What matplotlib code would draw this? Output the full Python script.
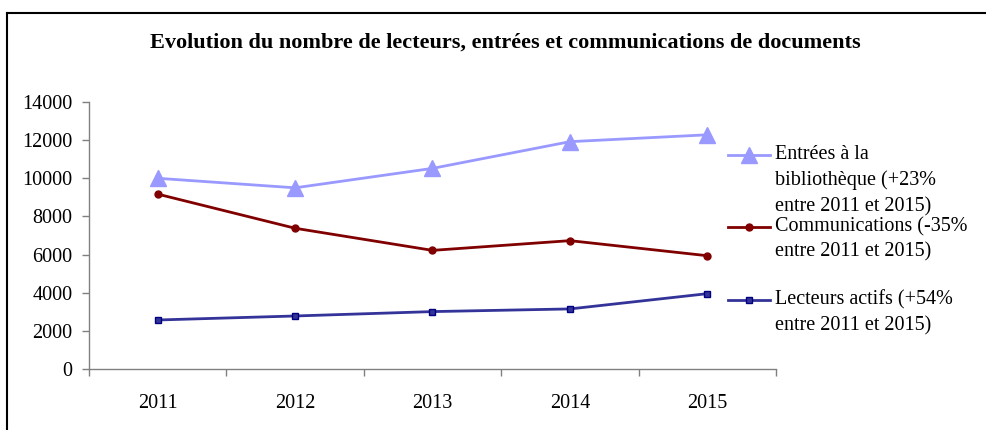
import numpy as np
import matplotlib
matplotlib.use("Agg")
import matplotlib.pyplot as plt
from matplotlib.lines import Line2D

plt.rcParams['font.family'] = ['Liberation Serif', 'DejaVu Serif']

years = ['2011', '2012', '2013', '2014', '2015']
entrees = [10000, 9500, 10520, 11920, 12280]
communications = [9170, 7380, 6220, 6730, 5940]
lecteurs = [2570, 2780, 3010, 3150, 3950]

labels = ['Entrées à la\nbibliothèque (+23%\nentre 2011 et 2015)',
          'Communications (-35%\nentre 2011 et 2015)',
          'Lecteurs actifs (+54%\nentre 2011 et 2015)']
yticks = [0, 2000, 4000, 6000, 8000, 10000, 12000, 14000]

TICK_FONTSIZE = 14.5
LEGEND_FONTSIZE = 14.5
TITLE_FONTSIZE = 16
AXIS_COLOR = '#808080'

W, H = 986, 430
fig = plt.figure(figsize=(W / 100, H / 100), dpi=100)
ax = fig.add_axes([89 / W, 1 - 369 / H, (776 - 89) / W, (369 - 102) / H])

x = np.arange(len(years))
styles = [
    dict(color='#9999FF', marker='^', markersize=11, markerfacecolor='#9999FF', markeredgecolor='#9999FF'),
    dict(color='#800000', marker='o', markersize=5, markerfacecolor='#800000', markeredgecolor='#800000'),
    dict(color='#333399', marker='s', markersize=5, markerfacecolor='#333399', markeredgecolor='#000080'),
]
for vals, st in zip([entrees, communications, lecteurs], styles):
    ax.plot(x, vals, linewidth=2, **st)

ax.set_xlim(-0.5, len(years) - 0.5)
ax.set_ylim(0, 14000)
ax.set_yticks(yticks)
ax.set_yticklabels([str(v) for v in yticks])

# boundary ticks, labels at category centres
ax.set_xticks(np.arange(-0.5, len(years)), labels=[''] * (len(years) + 1))
ax.set_xticks(x, labels=years, minor=True)
ax.tick_params(axis='x', which='major', length=5, width=1, color=AXIS_COLOR, direction='out')
ax.tick_params(axis='x', which='minor', length=0, pad=18, labelsize=TICK_FONTSIZE)
ax.tick_params(axis='y', length=5, width=1, color=AXIS_COLOR, direction='out', pad=7,
               labelsize=TICK_FONTSIZE)

for s in ['top', 'right']:
    ax.spines[s].set_visible(False)
for s in ['left', 'bottom']:
    ax.spines[s].set_color(AXIS_COLOR)
    ax.spines[s].set_linewidth(1)

fig.text(505 / W, 1 - 43 / H, 'Evolution du nombre de lecteurs, entrées et communications de documents',
         ha='center', va='center', fontsize=TITLE_FONTSIZE, fontweight='bold')

# legend drawn by hand so the marker sits on the first text line
leg_y = [155, 227, 300]
for lab, st, yy in zip(labels, styles, leg_y):
    yf = 1 - yy / H
    fig.add_artist(Line2D([728 / W, 770 / W], [yf, yf], linewidth=2, color=st['color']))
    fig.add_artist(Line2D([749 / W], [yf], linestyle='none', marker=st['marker'],
                          markersize=st['markersize'], markerfacecolor=st['markerfacecolor'],
                          markeredgecolor=st['markeredgecolor']))
    fig.text(775 / W, yf + 10 / H, lab, ha='left', va='top', fontsize=LEGEND_FONTSIZE,
             linespacing=1.45)

# chart frame (only left and top visible in the crop)
fig.add_artist(Line2D([7 / W, 7 / W], [0, 1 - 13 / H], color='black', linewidth=1.5))
fig.add_artist(Line2D([7 / W, 1], [1 - 13 / H, 1 - 13 / H], color='black', linewidth=1.5))

fig.savefig('out.png', dpi=100)
